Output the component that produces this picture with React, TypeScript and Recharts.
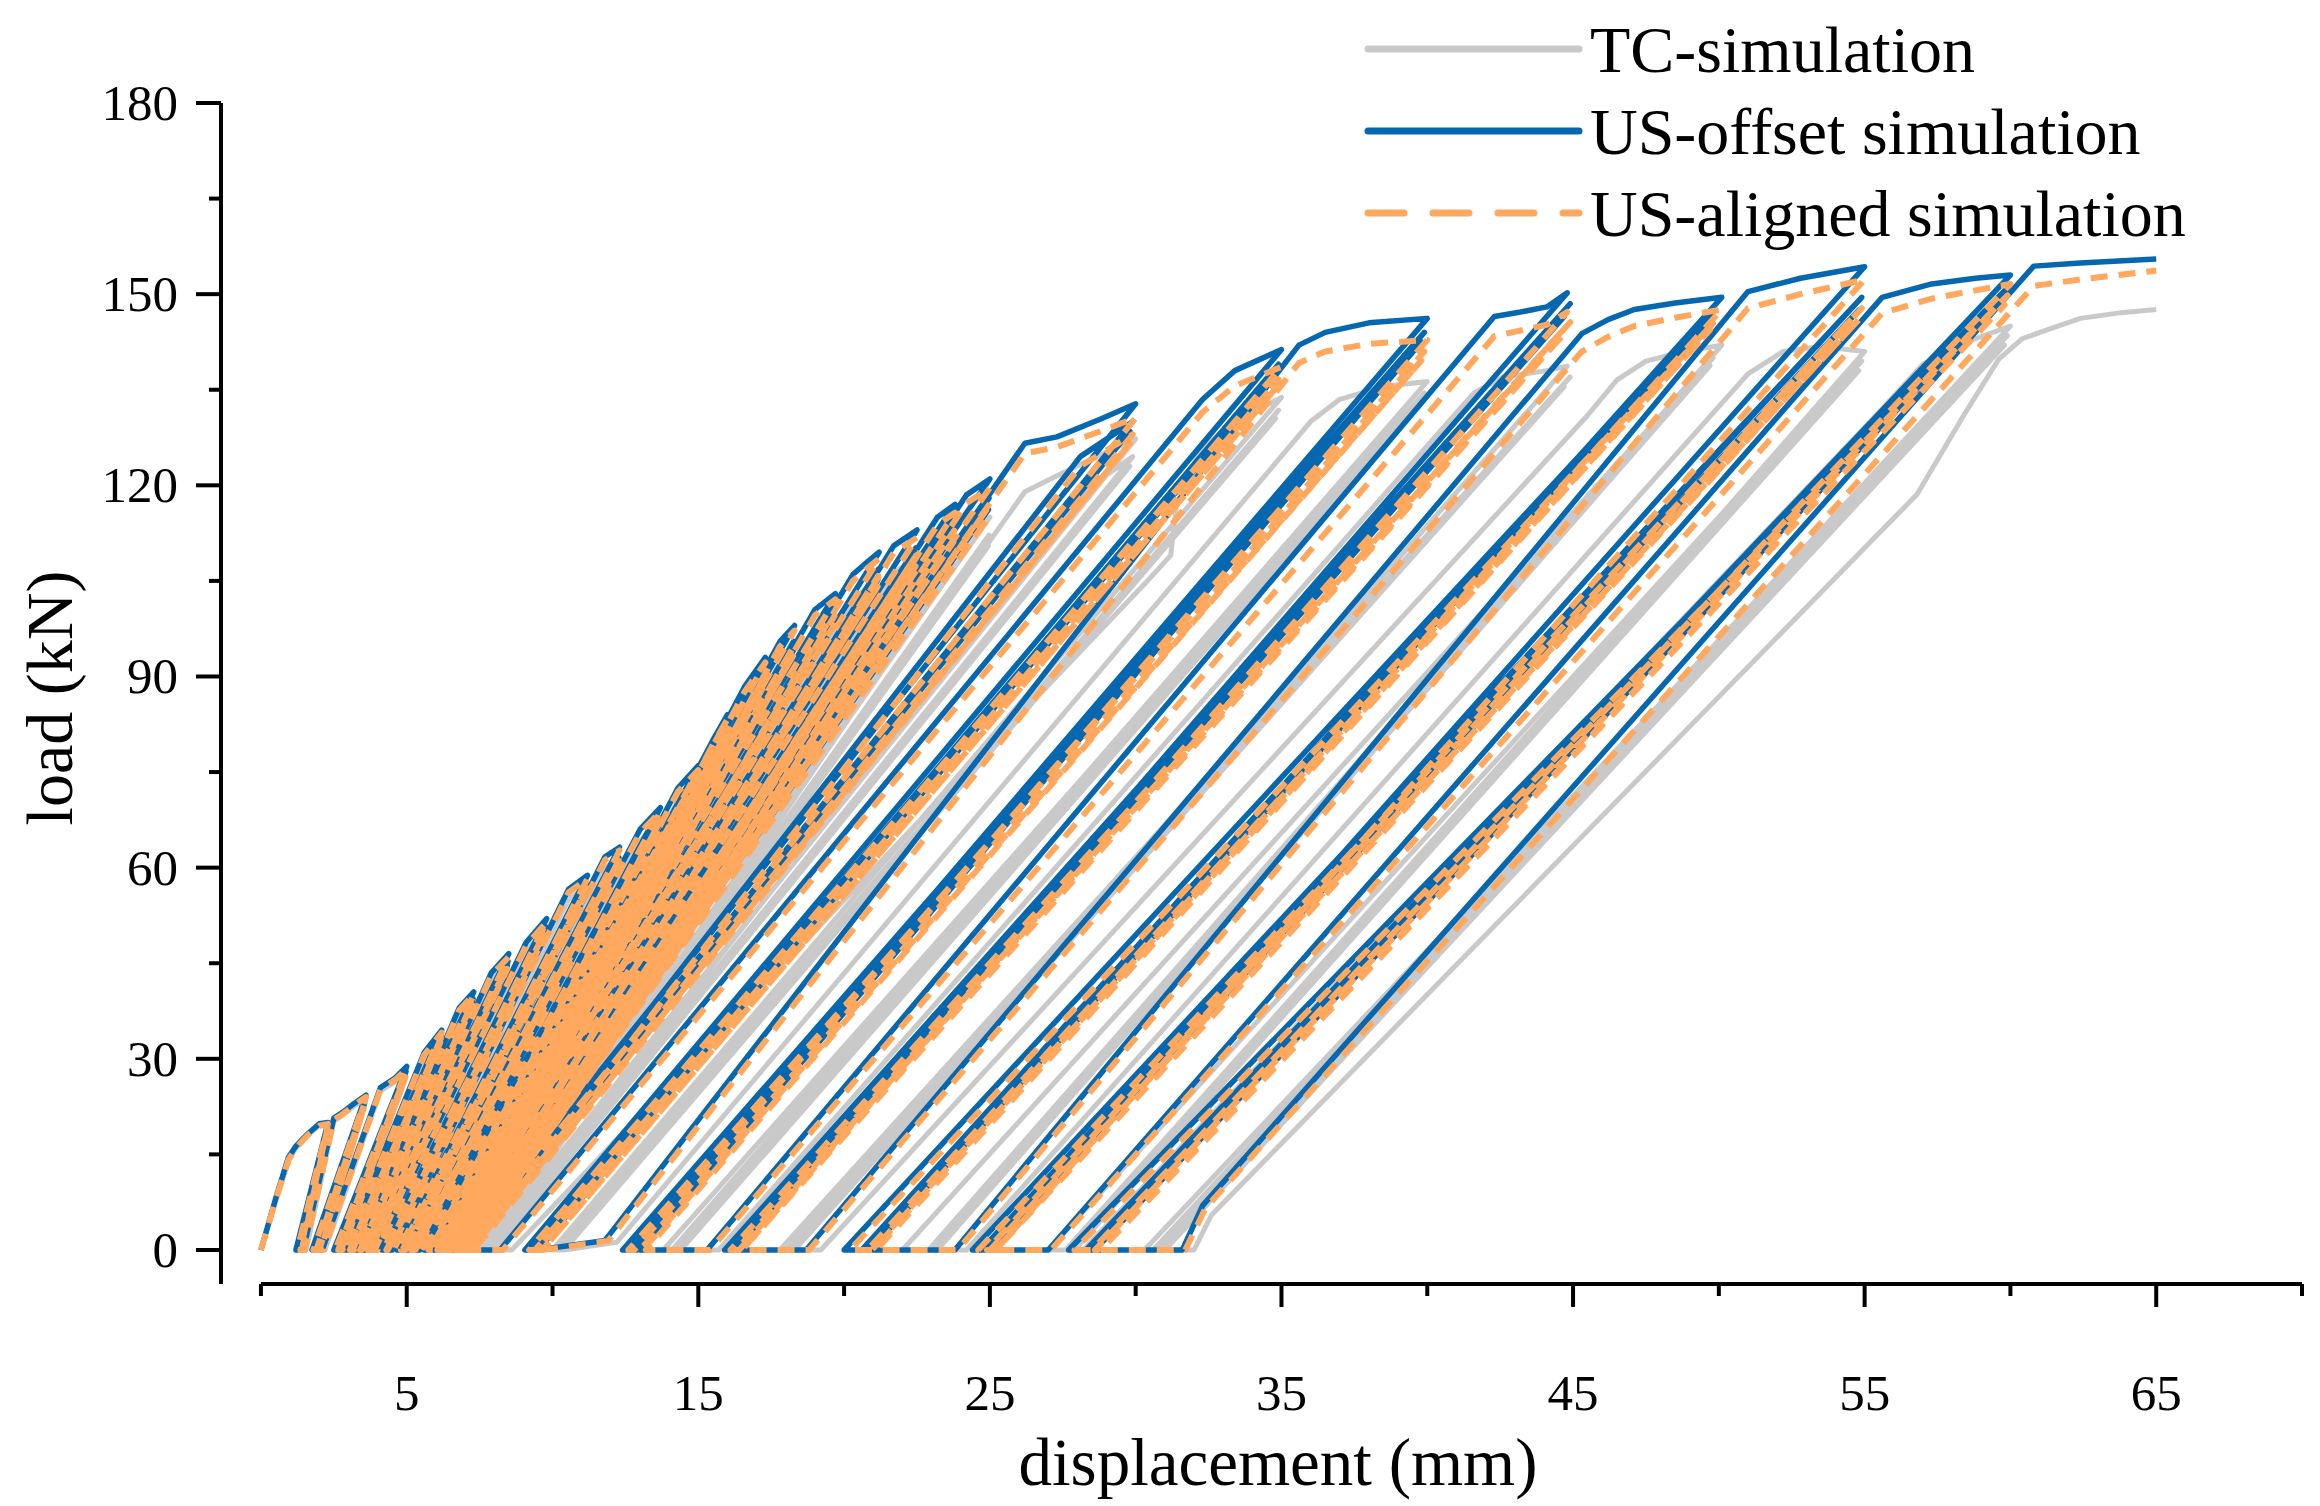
import React from 'react';
import { LineChart, Line, XAxis, YAxis, ReferenceLine } from 'recharts';

// axis ticks
const X_TICKS = [0, 5, 10, 15, 20, 25, 30, 35, 40, 45, 50, 55, 60, 65, 70];
const X_LABELS = [5, 15, 25, 35, 45, 55, 65];
const Y_TICKS = [0, 15, 30, 45, 60, 75, 90, 105, 120, 135, 150, 165, 180];
const Y_LABELS = [0, 30, 60, 90, 120, 150, 180];

// [displacement (mm), load (kN)]
const TC_SIM: [number, number][] = [
  [0, 0], [0.5, 7.5], [0.95, 14], [1.2, 16], [1.6, 18], [2.0, 19.6], [2.3, 19.8], [1.3, 0], [1.45, 0], [2.28, 19], [1.4, 0], [1.55, 0],
  [2.5, 20.2], [2.8, 21.2], [3.2, 22.6], [3.6, 23.8], [1.85, 0], [2.0, 0], [3.57, 23.1], [1.95, 0], [2.1, 0], [3.55, 22.5], [2.05, 0], [2.2, 0],
  [4.1, 25], [4.6, 26.4], [5.0, 28.1], [2.6, 0], [2.75, 0], [4.97, 27.3], [2.7, 0], [2.85, 0], [4.95, 26.8], [2.8, 0], [2.95, 0],
  [5.6, 30.2], [6.2, 33.6], [3.0, 0], [3.15, 0], [6.17, 32.7], [3.1, 0], [3.25, 0], [6.15, 32.1], [3.2, 0], [3.35, 0],
  [6.8, 37], [7.3, 39.4], [3.4, 0], [3.55, 0], [7.27, 38.3], [3.5, 0], [3.65, 0], [7.25, 37.7], [3.6, 0], [3.75, 0],
  [7.9, 42.3], [8.5, 45.2], [3.75, 0], [3.9, 0], [8.47, 44], [3.85, 0], [4.0, 0], [8.45, 43.3], [3.95, 0], [4.1, 0],
  [9.1, 47], [9.8, 50.5], [4.3, 0], [4.45, 0], [9.77, 49.2], [4.4, 0], [4.55, 0], [9.75, 48.4], [4.5, 0], [4.65, 0],
  [10.55, 55], [11.2, 57.2], [4.85, 0], [5.0, 0], [11.17, 55.7], [4.95, 0], [5.1, 0], [11.15, 54.8], [5.05, 0], [5.2, 0],
  [11.8, 60], [12.3, 61.4], [5.3, 0], [5.45, 0], [12.27, 59.8], [5.4, 0], [5.55, 0], [12.25, 58.9], [5.5, 0], [5.65, 0],
  [13.0, 64.2], [13.7, 67.5], [5.8, 0], [5.95, 0], [13.67, 65.8], [5.9, 0], [6.05, 0], [13.65, 64.7], [6.0, 0], [6.15, 0],
  [14.3, 70.5], [15, 73.8], [6.2, 0], [6.35, 0], [14.97, 71.9], [6.3, 0], [6.45, 0], [14.95, 70.8], [6.4, 0], [6.55, 0],
  [15.5, 77.5], [16.0, 81.5], [6.3, 0], [6.45, 0], [15.97, 79.4], [6.4, 0], [6.55, 0], [15.95, 78.1], [6.5, 0], [6.65, 0],
  [16.6, 85.7], [17.3, 90], [6.45, 0], [6.6, 0], [17.27, 87.8], [6.55, 0], [6.7, 0], [17.25, 86.4], [6.65, 0], [6.8, 0],
  [17.8, 92.2], [18.3, 94.8], [6.5, 0], [6.65, 0], [18.27, 92.3], [6.6, 0], [6.75, 0], [18.25, 90.8], [6.7, 0], [6.85, 0],
  [19.0, 97], [19.7, 99.5], [6.7, 0], [6.85, 0], [19.67, 97], [6.8, 0], [6.95, 0], [19.65, 95.5], [6.9, 0], [7.05, 0],
  [20.3, 102], [20.8, 104], [21.2, 105.5], [7.0, 0], [7.15, 0], [21.17, 102.8], [7.1, 0], [7.25, 0], [21.15, 101.2], [7.2, 0], [7.35, 0],
  [21.7, 106.3], [22.5, 108.6], [7.4, 0], [7.5, 0], [22.47, 105.9], [7.45, 0], [7.6, 0], [22.45, 104.3], [7.55, 0], [7.65, 0],
  [23.2, 110.3], [23.8, 112], [7.5, 0], [7.65, 0], [23.77, 109.2], [7.6, 0], [7.75, 0], [23.75, 107.5], [7.7, 0], [7.8, 0],
  [24.2, 113], [25, 115], [7.4, 0], [7.55, 0], [24.97, 112.2], [7.5, 0], [7.65, 0], [24.95, 110.5], [7.6, 0], [7.7, 0],
  [26.2, 119], [27.3, 121.5], [28.8, 124.8], [30, 127.3], [7.6, 0], [7.8, 0], [28.5, 120], [29.9, 124.5], [7.8, 0], [8.0, 0], [29.8, 123], [7.9, 0], [8.6, 0],
  [30.4, 105], [31.2, 109], [31.4, 117], [32.2, 125.5], [33.4, 130], [35, 133.8], [10.0, 0], [10.2, 0], [34.9, 131.8], [10.2, 0], [10.4, 0], [34.8, 130.5], [10.4, 0], [12.2, 1.2],
  [36.0, 130], [37, 133.5], [38.5, 135.5], [40, 136.3], [14.1, 0], [13.8, 0], [39.9, 134.5], [14.2, 0], [14.3, 0], [39.8, 133], [14.4, 0], [15.7, 0],
  [41.6, 134.5], [42.6, 137], [44.1, 138], [44.8, 138.7], [18.2, 0], [17.8, 0], [44.9, 137], [18.1, 0], [18.0, 0], [44.7, 135.5], [18.3, 0], [19.2, 0],
  [45.5, 131], [46.5, 136.5], [47.5, 139.5], [48.8, 141], [50.1, 142], [23.2, 0], [22.0, 0], [49.8, 140], [22.9, 0], [23.0, 0], [49.7, 138.8], [23.2, 0], [24.2, 0],
  [51, 137.5], [52.2, 141], [53.5, 141.8], [55, 141], [27.9, 0], [27.0, 0], [54.9, 139.5], [27.6, 0], [27.7, 0], [54.8, 138], [27.9, 0], [28.2, 0],
  [55.5, 131.5], [57, 139], [58.5, 142.5], [60, 145], [30.6, 0], [30.3, 0], [59.9, 143.5], [30.8, 0], [30.9, 0], [59.8, 142], [31.0, 0], [32.0, 0],
  [32.6, 5.5], [56.8, 118.6], [58.4, 131], [59.6, 139.8], [60.4, 143], [61.5, 144.8], [62.4, 146.2], [63.8, 147.1], [65, 147.6],
];

const US_OFFSET: [number, number][] = [
  [0, 0], [0.5, 8], [0.94, 14.5], [1.2, 16.3], [1.6, 18.2], [2.0, 19.8], [2.3, 20], [1.2, 0], [1.35, 0], [2.28, 19.3], [1.3, 0], [1.45, 0],
  [2.5, 20.7], [2.8, 21.6], [3.2, 23], [3.6, 24.3], [1.75, 0], [1.9, 0], [3.57, 23.6], [1.85, 0], [2.0, 0], [3.55, 23], [1.95, 0], [2.1, 0],
  [4.1, 25.5], [4.6, 27], [5.0, 28.8], [2.5, 0], [2.65, 0], [4.97, 28], [2.6, 0], [2.75, 0], [4.95, 27.5], [2.7, 0], [2.85, 0],
  [5.6, 31], [6.2, 34.5], [2.9, 0], [3.05, 0], [6.17, 33.6], [3.0, 0], [3.15, 0], [6.15, 33], [3.1, 0], [3.25, 0],
  [6.8, 38], [7.3, 40.5], [3.25, 0], [3.4, 0], [7.27, 39.4], [3.35, 0], [3.5, 0], [7.25, 38.8], [3.45, 0], [3.6, 0],
  [7.9, 43.5], [8.5, 46.5], [3.6, 0], [3.75, 0], [8.47, 45.3], [3.7, 0], [3.85, 0], [8.45, 44.6], [3.8, 0], [3.95, 0],
  [9.1, 48.3], [9.8, 52], [4.15, 0], [4.3, 0], [9.77, 50.7], [4.25, 0], [4.4, 0], [9.75, 49.9], [4.35, 0], [4.5, 0],
  [10.55, 56.6], [11.2, 58.8], [4.67, 0], [4.8, 0], [11.17, 57.3], [4.75, 0], [4.9, 0], [11.15, 56.4], [4.85, 0], [5.0, 0],
  [11.8, 61.7], [12.3, 63.2], [5.1, 0], [5.25, 0], [12.27, 61.6], [5.2, 0], [5.35, 0], [12.25, 60.7], [5.3, 0], [5.45, 0],
  [13.0, 66], [13.7, 69.4], [5.6, 0], [5.75, 0], [13.67, 67.7], [5.7, 0], [5.85, 0], [13.65, 66.6], [5.8, 0], [5.95, 0],
  [14.3, 72.5], [15, 76], [5.95, 0], [6.1, 0], [14.97, 74.1], [6.05, 0], [6.2, 0], [14.95, 73], [6.15, 0], [6.3, 0],
  [15.5, 80], [16.0, 84], [6.0, 0], [6.15, 0], [15.97, 81.9], [6.1, 0], [6.25, 0], [15.95, 80.6], [6.2, 0], [6.35, 0],
  [16.6, 88.5], [17.3, 93], [6.1, 0], [6.25, 0], [17.27, 90.7], [6.2, 0], [6.35, 0], [17.25, 89.3], [6.3, 0], [6.45, 0],
  [17.8, 95.5], [18.3, 98], [6.05, 0], [6.2, 0], [18.27, 95.5], [6.15, 0], [6.3, 0], [18.25, 94], [6.25, 0], [6.4, 0],
  [19.0, 100.5], [19.7, 103], [6.15, 0], [6.3, 0], [19.67, 100.4], [6.25, 0], [6.4, 0], [19.65, 98.9], [6.35, 0], [6.5, 0],
  [20.3, 106], [20.8, 108], [21.2, 109.5], [6.4, 0], [6.55, 0], [21.17, 106.8], [6.5, 0], [6.65, 0], [21.15, 105.1], [6.6, 0], [6.75, 0],
  [21.7, 110.5], [22.5, 113], [6.8, 0], [6.9, 0], [22.47, 110.2], [6.85, 0], [7.0, 0], [22.45, 108.5], [6.95, 0], [7.05, 0],
  [23.2, 115], [23.8, 117], [6.85, 0], [7.0, 0], [23.77, 114.1], [6.95, 0], [7.1, 0], [23.75, 112.3], [7.05, 0], [7.15, 0],
  [24.2, 118.5], [25, 121], [6.7, 0], [6.85, 0], [24.97, 118], [6.8, 0], [6.95, 0], [24.95, 116.2], [6.9, 0], [7.0, 0],
  [26.2, 126.6], [27.3, 127.6], [28.8, 130.4], [30, 132.8], [6.7, 0], [6.9, 0], [28.1, 124.5], [29.9, 130], [6.9, 0], [7.1, 0], [29.8, 128.5], [7.0, 0], [8.2, 0],
  [32.3, 133.5], [33.4, 138], [35, 141.3], [9.05, 0], [9.25, 0], [34.9, 139], [9.3, 0], [9.5, 0], [34.8, 137.5], [9.5, 0], [11.8, 1.5],
  [35.6, 142], [36.5, 144], [38, 145.5], [40, 146.2], [12.6, 0], [12.4, 0], [39.9, 144], [12.8, 0], [12.9, 0], [39.8, 142.5], [13.0, 0], [15.3, 0],
  [42.3, 146.5], [43.2, 147.2], [44.1, 148], [44.8, 150.2], [16.3, 0], [15.9, 0], [44.9, 148.5], [16.2, 0], [16.1, 0], [44.7, 146.5], [16.3, 0], [18.7, 0],
  [45.3, 143.8], [46.2, 146], [47.1, 147.6], [48.5, 148.6], [50.1, 149.5], [20.75, 0], [20.0, 0], [49.8, 147.3], [20.6, 0], [20.75, 0], [49.7, 146.2], [20.9, 0], [23.8, 0],
  [51, 150.4], [52.8, 152.5], [55, 154.3], [25.0, 0], [24.4, 0], [54.9, 149.5], [24.7, 0], [24.8, 0], [54.8, 147.5], [25.0, 0], [27.0, 0],
  [55.6, 149.5], [57.3, 151.6], [58.8, 152.5], [60, 153], [28.3, 0], [27.7, 0], [59.9, 151], [28.4, 0], [28.5, 0], [59.8, 149.5], [28.6, 0], [31.6, 0],
  [32.3, 7], [60.8, 154.4], [62.4, 154.9], [65, 155.5],
];

const US_ALIGNED: [number, number][] = [
  [0, 0], [0.5, 7.8], [0.95, 14.2], [1.2, 16], [1.6, 18], [2.0, 19.5], [2.3, 19.8], [1.25, 0], [1.4, 0], [2.28, 19.1], [1.35, 0], [1.5, 0],
  [2.5, 20.4], [2.8, 21.3], [3.2, 22.7], [3.6, 24], [1.8, 0], [1.95, 0], [3.57, 23.3], [1.9, 0], [2.05, 0], [3.55, 22.7], [2.0, 0], [2.15, 0],
  [4.1, 25.2], [4.6, 26.7], [5.0, 28.4], [2.55, 0], [2.7, 0], [4.97, 27.6], [2.65, 0], [2.8, 0], [4.95, 27.1], [2.75, 0], [2.9, 0],
  [5.6, 30.6], [6.2, 34.1], [2.95, 0], [3.1, 0], [6.17, 33.2], [3.05, 0], [3.2, 0], [6.15, 32.6], [3.15, 0], [3.3, 0],
  [6.8, 37.6], [7.3, 40.1], [3.3, 0], [3.45, 0], [7.27, 39], [3.4, 0], [3.55, 0], [7.25, 38.4], [3.5, 0], [3.65, 0],
  [7.9, 43.1], [8.5, 46], [3.65, 0], [3.8, 0], [8.47, 44.8], [3.75, 0], [3.9, 0], [8.45, 44.1], [3.85, 0], [4.0, 0],
  [9.1, 47.8], [9.8, 51.5], [4.2, 0], [4.35, 0], [9.77, 50.2], [4.3, 0], [4.45, 0], [9.75, 49.4], [4.4, 0], [4.55, 0],
  [10.55, 56.1], [11.2, 58.3], [4.72, 0], [4.85, 0], [11.17, 56.8], [4.8, 0], [4.95, 0], [11.15, 55.9], [4.9, 0], [5.05, 0],
  [11.8, 61.2], [12.3, 62.7], [5.15, 0], [5.3, 0], [12.27, 61.1], [5.25, 0], [5.4, 0], [12.25, 60.2], [5.35, 0], [5.5, 0],
  [13.0, 65.5], [13.7, 68.8], [5.65, 0], [5.8, 0], [13.67, 67.1], [5.75, 0], [5.9, 0], [13.65, 66], [5.85, 0], [6.0, 0],
  [14.3, 71.9], [15, 75.3], [6.0, 0], [6.15, 0], [14.97, 73.4], [6.1, 0], [6.25, 0], [14.95, 72.3], [6.2, 0], [6.35, 0],
  [15.5, 79.3], [16.0, 83.3], [6.05, 0], [6.2, 0], [15.97, 81.2], [6.15, 0], [6.3, 0], [15.95, 79.9], [6.25, 0], [6.4, 0],
  [16.6, 87.7], [17.3, 92.2], [6.15, 0], [6.3, 0], [17.27, 89.9], [6.25, 0], [6.4, 0], [17.25, 88.5], [6.35, 0], [6.5, 0],
  [17.8, 94.7], [18.3, 97.2], [6.1, 0], [6.25, 0], [18.27, 94.7], [6.2, 0], [6.35, 0], [18.25, 93.2], [6.3, 0], [6.45, 0],
  [19.0, 99.6], [19.7, 102.1], [6.2, 0], [6.35, 0], [19.67, 99.5], [6.3, 0], [6.45, 0], [19.65, 98], [6.4, 0], [6.55, 0],
  [20.3, 105], [20.8, 107], [21.2, 108.5], [6.45, 0], [6.6, 0], [21.17, 105.8], [6.55, 0], [6.7, 0], [21.15, 104.1], [6.65, 0], [6.8, 0],
  [21.7, 109.4], [22.5, 111.8], [6.85, 0], [6.95, 0], [22.47, 109], [6.9, 0], [7.05, 0], [22.45, 107.3], [7.0, 0], [7.1, 0],
  [23.2, 113.8], [23.8, 115.7], [6.9, 0], [7.05, 0], [23.77, 112.9], [7.0, 0], [7.15, 0], [23.75, 111.1], [7.1, 0], [7.2, 0],
  [24.2, 117.2], [25, 119.6], [6.75, 0], [6.9, 0], [24.97, 116.7], [6.85, 0], [7.0, 0], [24.95, 114.9], [6.95, 0], [7.05, 0],
  [26.2, 125], [27.3, 126], [28.8, 128.5], [30, 130.6], [6.9, 0], [7.1, 0], [28.1, 123], [29.9, 128], [7.1, 0], [7.3, 0], [29.8, 126.6], [7.2, 0], [8.3, 0],
  [32.3, 131.5], [33.4, 135.6], [35, 138.6], [9.2, 0], [9.4, 0], [34.9, 136.6], [9.45, 0], [9.65, 0], [34.8, 135.2], [9.65, 0], [11.9, 1.4],
  [35.6, 139.2], [36.5, 141], [38, 142.2], [40, 142.8], [12.8, 0], [12.6, 0], [39.9, 141], [13.0, 0], [13.1, 0], [39.8, 139.6], [13.2, 0], [15.4, 0],
  [42.3, 143.4], [43.2, 144.3], [44.1, 145.2], [44.8, 147.2], [16.5, 0], [16.1, 0], [44.9, 145.6], [16.4, 0], [16.3, 0], [44.7, 143.8], [16.5, 0], [18.8, 0],
  [45.3, 141], [46.2, 143.3], [47.1, 145], [48.5, 146.3], [50.1, 147.6], [21.0, 0], [20.2, 0], [49.8, 145.4], [20.8, 0], [20.95, 0], [49.7, 144.4], [21.1, 0], [23.9, 0],
  [51, 147.8], [52.8, 150], [55, 152.3], [25.2, 0], [24.6, 0], [54.9, 147.8], [24.9, 0], [25.0, 0], [54.8, 146], [25.2, 0], [27.1, 0],
  [55.6, 147], [57.3, 149.3], [58.8, 150.6], [60, 151.6], [28.5, 0], [27.9, 0], [59.9, 149.8], [28.6, 0], [28.7, 0], [59.8, 148.3], [28.8, 0], [31.7, 0],
  [32.4, 6.6], [60.8, 151.3], [62.4, 152.3], [65, 153.7],
];

const SERIES_NAMES = ['TC-simulation', 'US-offset simulation', 'US-aligned simulation'];
const SERIES_COLORS = ['#c9c9c9', '#0567b0', '#ffa85e'];

const FONT = "'Times New Roman', 'Liberation Serif', serif";
const W = 2320;
const H = 1506;
const Y_MIN = -5.34;

const toPoints = (arr: [number, number][]) => arr.map(([x, y]) => ({ x, y }));

const XTick = (props: any) => {
  const { x, y, payload } = props;
  const major = X_LABELS.includes(payload.value);
  return (
    <g>
      <line x1={x} x2={x} y1={y} y2={y + (major ? 23 : 12)} stroke="#000" strokeWidth={4} />
      {major && (
        <text x={x} y={y + 109} textAnchor="middle" dominantBaseline="central" fontFamily={FONT} fontSize={51} fill="#000">
          {payload.value}
        </text>
      )}
    </g>
  );
};

const YTick = (props: any) => {
  const { x, y, payload } = props;
  const major = Y_LABELS.includes(payload.value);
  return (
    <g>
      <line x1={x - (major ? 25 : 12)} x2={x} y1={y} y2={y} stroke="#000" strokeWidth={4} />
      {major && (
        <text x={x - 43} y={y} textAnchor="end" dominantBaseline="central" fontFamily={FONT} fontSize={51} fill="#000">
          {payload.value}
        </text>
      )}
    </g>
  );
};

export default function App() {
  const series = [TC_SIM, US_OFFSET, US_ALIGNED].map(toPoints);
  const legendRows = [49, 131, 213];

  return (
    <div style={{ position: 'relative', width: W, height: H, background: '#fff' }}>
      <style>{'body{margin:0}'}</style>
      <LineChart width={W} height={H} margin={{ top: 103, right: 18, bottom: 162, left: 141 }}>
        <XAxis
          type="number"
          dataKey="x"
          domain={[-1.37, 70]}
          ticks={X_TICKS}
          interval={0}
          allowDataOverflow
          axisLine={false}
          tickLine={false}
          tickSize={0}
          tickMargin={0}
          height={60}
          tick={<XTick />}
        />
        <YAxis
          type="number"
          dataKey="y"
          domain={[Y_MIN, 180]}
          ticks={Y_TICKS}
          interval={0}
          allowDataOverflow
          axisLine={{ stroke: '#000', strokeWidth: 4 }}
          tickLine={false}
          tickSize={0}
          tickMargin={0}
          width={80}
          tick={<YTick />}
        />
        <ReferenceLine
          segment={[{ x: 0, y: Y_MIN }, { x: 70, y: Y_MIN }]}
          stroke="#000"
          strokeWidth={4}
          ifOverflow="visible"
        />
        <Line
          data={series[0]}
          dataKey="y"
          type="linear"
          stroke={SERIES_COLORS[0]}
          strokeWidth={5}
          strokeLinejoin="round"
          dot={false}
          isAnimationActive={false}
        />
        <Line
          data={series[1]}
          dataKey="y"
          type="linear"
          stroke={SERIES_COLORS[1]}
          strokeWidth={5.5}
          strokeLinejoin="round"
          dot={false}
          isAnimationActive={false}
        />
        <Line
          data={series[2]}
          dataKey="y"
          type="linear"
          stroke={SERIES_COLORS[2]}
          strokeWidth={6}
          strokeDasharray="17 11"
          strokeLinejoin="round"
          dot={false}
          isAnimationActive={false}
        />
      </LineChart>
      <svg width={W} height={H} style={{ position: 'absolute', left: 0, top: 0, pointerEvents: 'none' }}>
        <text x={1278} y={1462} textAnchor="middle" dominantBaseline="central" fontFamily={FONT} fontSize={67} fill="#000">
          displacement (mm)
        </text>
        <text transform="translate(49,698) rotate(-90)" textAnchor="middle" dominantBaseline="central" fontFamily={FONT} fontSize={66} fill="#000">
          load (kN)
        </text>
        {SERIES_NAMES.map((name, i) => (
          <g key={name}>
            <line
              x1={1368}
              x2={1579}
              y1={legendRows[i]}
              y2={legendRows[i]}
              stroke={SERIES_COLORS[i]}
              strokeWidth={7}
              strokeDasharray={i === 2 ? '36 29' : undefined}
              strokeLinecap="round"
            />
            <text x={1590} y={legendRows[i]} dominantBaseline="central" fontFamily={FONT} fontSize={66} fill="#000">
              {name}
            </text>
          </g>
        ))}
      </svg>
    </div>
  );
}
